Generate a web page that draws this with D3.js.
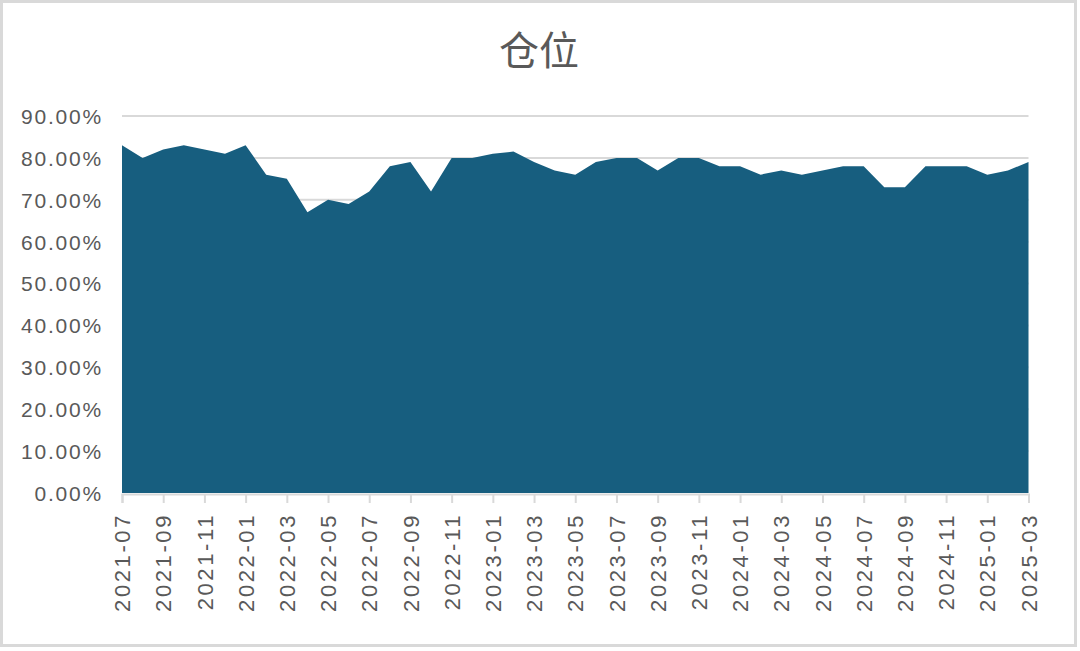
<!DOCTYPE html>
<html>
<head>
<meta charset="utf-8">
<script src="https://cdn.jsdelivr.net/npm/d3@7/dist/d3.min.js"></script>
<style>
html,body{margin:0;padding:0;background:#fff;}
svg{display:block;}
</style>
</head>
<body>
<svg id="chart" width="1080" height="651"></svg>
<script>
const title = "仓位";
const months = ["2021-07","2021-08","2021-09","2021-10","2021-11","2021-12","2022-01","2022-02","2022-03","2022-04","2022-05","2022-06","2022-07","2022-08","2022-09","2022-10","2022-11","2022-12","2023-01","2023-02","2023-03","2023-04","2023-05","2023-06","2023-07","2023-08","2023-09","2023-10","2023-11","2023-12","2024-01","2024-02","2024-03","2024-04","2024-05","2024-06","2024-07","2024-08","2024-09","2024-10","2024-11","2024-12","2025-01","2025-02","2025-03"];
const positionPct = [83,80,82,83,82,81,83,76,75,67,70,69,72,78,79,72,80,80,81,81.5,79,77,76,79,80,80,77,80,80,78,78,76,77,76,77,78,78,73,73,78,78,78,76,77,79];
const yTicks = [0,10,20,30,40,50,60,70,80,90];

(function(){
const svg = d3.select("#chart");

// outer border
svg.append("rect").attr("x",1.5).attr("y",1.5).attr("width",1074).attr("height",644)
  .attr("fill","#fff").attr("stroke","#d9d9d9").attr("stroke-width",3);

const pLeft = 122, pRight = 1028.5, pTop = 116, pBottom = 493;
const x = d3.scalePoint().domain(months).range([pLeft,pRight]);
const y = d3.scaleLinear().domain([0,90]).range([pBottom,pTop]);

// title
svg.append("text").attr("x",539).attr("y",65).attr("text-anchor","middle")
  .attr("font-family","'Noto Sans CJK SC', sans-serif").attr("font-size",40)
  .attr("fill","#595959").text(title);

// gridlines
svg.append("g").selectAll("line").data(yTicks.filter(d=>d>0)).join("line")
  .attr("x1",pLeft).attr("x2",pRight).attr("y1",d=>y(d)).attr("y2",d=>y(d))
  .attr("stroke","#d9d9d9").attr("stroke-width",2);

// area
const area = d3.area().x((d,i)=>x(months[i])).y0(y(0)).y1(d=>y(d));
svg.append("path").datum(positionPct).attr("d",area).attr("fill","#175e7f");

// y axis labels
const yAxis = d3.axisLeft(y).tickValues(yTicks).tickSize(0).tickPadding(0)
  .tickFormat(d=>d.toFixed(2)+"%");
const gy = svg.append("g").attr("transform","translate(103,0)").call(yAxis);
gy.select(".domain").remove();
gy.selectAll("text").attr("font-family","'Liberation Sans', Arial, sans-serif")
  .attr("font-size",21).attr("fill","#595959").attr("letter-spacing","1.8px").attr("dy","0.35em");

// x axis
const xTickVals = months.filter((d,i)=>i%2===0);
const xAxis = d3.axisBottom(x).tickValues(xTickVals).tickSize(9).tickPadding(0);
const gx = svg.append("g").attr("transform",`translate(0,${pBottom+1})`).call(xAxis);
gx.select(".domain").attr("stroke","#d9d9d9").attr("stroke-width",2);
gx.selectAll(".tick line").attr("stroke","#d9d9d9").attr("stroke-width",2);
gx.selectAll("text")
  .attr("font-family","'Liberation Sans', Arial, sans-serif")
  .attr("font-size",22).attr("fill","#595959").attr("letter-spacing","2.6px")
  .attr("text-anchor","end").attr("dy","0.35em").attr("y",0)
  .attr("transform","translate(0,19) rotate(-90)");
})();
</script>
</body>
</html>
